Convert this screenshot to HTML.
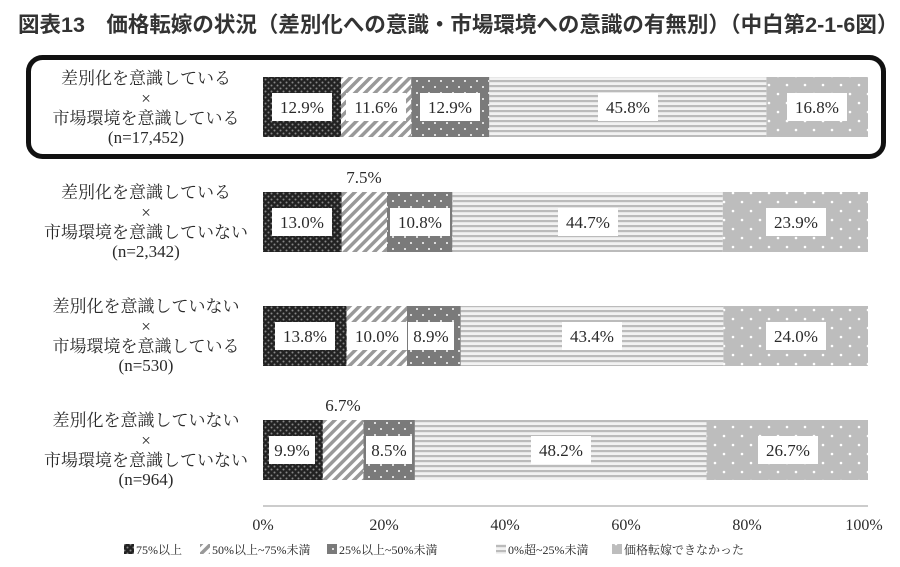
<!DOCTYPE html>
<html><head><meta charset="utf-8"><style>
html,body{margin:0;padding:0;background:#fff;width:900px;height:567px;overflow:hidden}
svg{display:block}
.s{font-family:"Liberation Serif","Noto Serif CJK SC","Noto Sans CJK JP",serif;fill:#2a2a2a}
</style></head><body>
<svg width="900" height="567" viewBox="0 0 900 567">
<defs>
<pattern id="p1" width="6" height="6" patternUnits="userSpaceOnUse"><rect width="6" height="6" fill="#222"/><circle cx="1.5" cy="1.5" r="1" fill="#888"/><circle cx="4.5" cy="4.5" r="1" fill="#888"/></pattern>
<pattern id="p2" width="7" height="7" patternUnits="userSpaceOnUse" patternTransform="rotate(45)"><rect width="7" height="7" fill="#fff"/><rect width="3.5" height="7" fill="#999"/></pattern>
<pattern id="p3" width="12" height="12" patternUnits="userSpaceOnUse"><rect width="12" height="12" fill="#7a7a7a"/><rect x="2" y="2" width="2" height="2" fill="#ddd"/><rect x="8" y="8" width="2" height="2" fill="#ddd"/></pattern>
<pattern id="p4" width="6" height="5" patternUnits="userSpaceOnUse"><rect width="6" height="5" fill="#f2f2f2"/><rect width="6" height="2.2" fill="#bbb"/></pattern>
<pattern id="p5" width="18" height="18" patternUnits="userSpaceOnUse"><rect width="18" height="18" fill="#bdbdbd"/><circle cx="4" cy="4" r="1.3" fill="#fff"/><circle cx="13" cy="13" r="1.3" fill="#fff"/></pattern>
</defs>
<text x="18" y="32" font-family="'Liberation Sans','Noto Sans CJK JP',sans-serif" font-size="21.5" font-weight="bold" fill="#333">図表13　価格転嫁の状況（差別化への意識・市場環境への意識の有無別）（中白第2-1-6図）</text>
<rect x="28.5" y="57.5" width="855" height="99" rx="14" fill="none" stroke="#111" stroke-width="5"/>
<g class="s" font-size="17" text-anchor="middle">
<text x="146" y="84">差別化を意識している</text><text x="146" y="104">×</text><text x="146" y="124">市場環境を意識している</text><text x="146" y="143">(n=17,452)</text>
<text x="146" y="198">差別化を意識している</text><text x="146" y="218">×</text><text x="146" y="238">市場環境を意識していない</text><text x="146" y="257">(n=2,342)</text>
<text x="146" y="312">差別化を意識していない</text><text x="146" y="332">×</text><text x="146" y="352">市場環境を意識している</text><text x="146" y="371">(n=530)</text>
<text x="146" y="426">差別化を意識していない</text><text x="146" y="446">×</text><text x="146" y="466">市場環境を意識していない</text><text x="146" y="485">(n=964)</text>
</g>
<g>
<rect x="263" y="77" width="78" height="60" fill="url(#p1)"/><rect x="341" y="77" width="70.2" height="60" fill="url(#p2)"/><rect x="411.2" y="77" width="78.1" height="60" fill="url(#p3)"/><rect x="489.3" y="77" width="277.1" height="60" fill="url(#p4)"/><rect x="766.4" y="77" width="101.6" height="60" fill="url(#p5)"/>
<rect x="263" y="192" width="78.7" height="60" fill="url(#p1)"/><rect x="341.7" y="192" width="45.3" height="60" fill="url(#p2)"/><rect x="387" y="192" width="65.4" height="60" fill="url(#p3)"/><rect x="452.4" y="192" width="270.4" height="60" fill="url(#p4)"/><rect x="722.8" y="192" width="145.2" height="60" fill="url(#p5)"/>
<rect x="263" y="306" width="83.5" height="60" fill="url(#p1)"/><rect x="346.5" y="306" width="60.5" height="60" fill="url(#p2)"/><rect x="407" y="306" width="53.8" height="60" fill="url(#p3)"/><rect x="460.8" y="306" width="262.6" height="60" fill="url(#p4)"/><rect x="723.4" y="306" width="144.6" height="60" fill="url(#p5)"/>
<rect x="263" y="420" width="59.9" height="60" fill="url(#p1)"/><rect x="322.9" y="420" width="40.5" height="60" fill="url(#p2)"/><rect x="363.4" y="420" width="51.5" height="60" fill="url(#p3)"/><rect x="414.9" y="420" width="291.6" height="60" fill="url(#p4)"/><rect x="706.5" y="420" width="161.5" height="60" fill="url(#p5)"/>
</g>
<g fill="#fff">
<rect x="272" y="93" width="60" height="28"/><rect x="346" y="93" width="60" height="28"/><rect x="420" y="93" width="60" height="28"/><rect x="598" y="93" width="60" height="28"/><rect x="787" y="93" width="60" height="28"/>
<rect x="272" y="208" width="60" height="28"/><rect x="390" y="208" width="60" height="28"/><rect x="558" y="208" width="60" height="28"/><rect x="766" y="208" width="60" height="28"/>
<rect x="275" y="322" width="60" height="28"/><rect x="347" y="322" width="60" height="28"/><rect x="408" y="322" width="46" height="28"/><rect x="562" y="322" width="60" height="28"/><rect x="766" y="322" width="60" height="28"/>
<rect x="269" y="436" width="46" height="28"/><rect x="366" y="436" width="46" height="28"/><rect x="531" y="436" width="60" height="28"/><rect x="758" y="436" width="60" height="28"/>
</g>
<g class="s" font-size="17" text-anchor="middle">
<text x="302" y="113">12.9%</text><text x="376" y="113">11.6%</text><text x="450" y="113">12.9%</text><text x="628" y="113">45.8%</text><text x="817" y="113">16.8%</text>
<text x="302" y="228">13.0%</text><text x="364" y="183">7.5%</text><text x="420" y="228">10.8%</text><text x="588" y="228">44.7%</text><text x="796" y="228">23.9%</text>
<text x="305" y="342">13.8%</text><text x="377" y="342">10.0%</text><text x="431" y="342">8.9%</text><text x="592" y="342">43.4%</text><text x="796" y="342">24.0%</text>
<text x="292" y="456">9.9%</text><text x="343" y="411">6.7%</text><text x="389" y="456">8.5%</text><text x="561" y="456">48.2%</text><text x="788" y="456">26.7%</text>
</g>
<line x1="263" y1="506" x2="868" y2="506" stroke="#bbb" stroke-width="1.5"/>
<g class="s" font-size="16" text-anchor="middle">
<text x="263" y="530">0%</text><text x="384" y="530">20%</text><text x="505" y="530">40%</text><text x="626" y="530">60%</text><text x="747" y="530">80%</text><text x="864" y="530">100%</text>
</g>
<g class="s" font-size="12">
<rect x="124" y="544" width="10" height="10" fill="url(#p1)"/><text x="136" y="554">75%以上</text>
<rect x="200" y="544" width="10" height="10" fill="url(#p2)"/><text x="212" y="554">50%以上~75%未満</text>
<rect x="327" y="544" width="10" height="10" fill="url(#p3)"/><text x="339" y="554">25%以上~50%未満</text>
<rect x="496" y="544" width="10" height="10" fill="url(#p4)"/><text x="508" y="554">0%超~25%未満</text>
<rect x="612" y="544" width="10" height="10" fill="url(#p5)"/><text x="624" y="554">価格転嫁できなかった</text>
</g>
</svg>
</body></html>
